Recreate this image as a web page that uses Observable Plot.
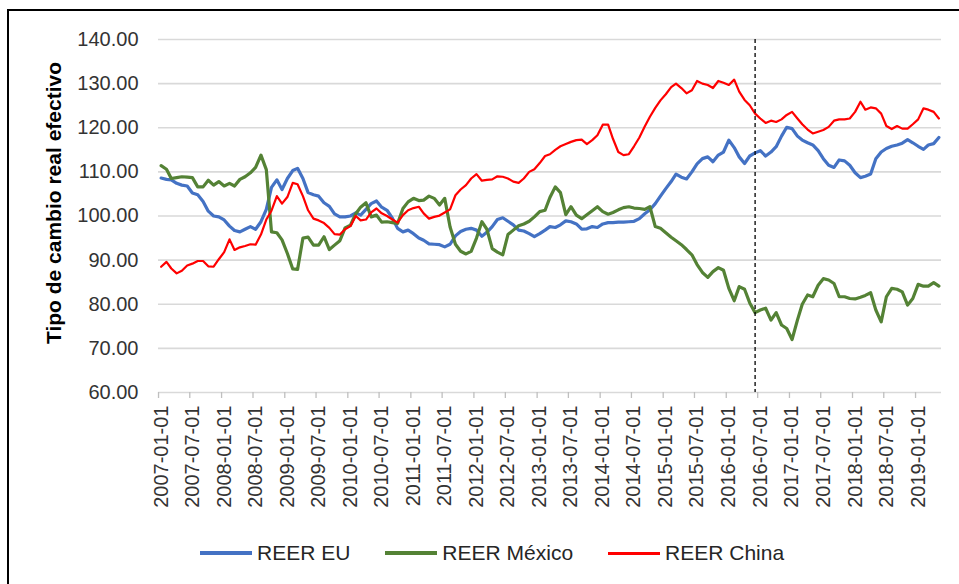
<!DOCTYPE html>
<html>
<head>
<meta charset="utf-8">
<script src="https://cdn.jsdelivr.net/npm/d3@7"></script>
<script src="https://cdn.jsdelivr.net/npm/@observablehq/plot@0.6"></script>
<style>
  body { margin: 0; background: #fff; font-family: "Liberation Sans", Arial, sans-serif; }
  #wrap { position: relative; width: 959px; height: 584px; overflow: hidden; background: #fff; }
  #frame { position: absolute; left: 7px; top: 9px; width: 1200px; height: 1200px; border-left: 2px solid #000; border-top: 2px solid #000; pointer-events: none; }
  #chart { position: absolute; left: 0; top: 0; }
  #ytitle { position: absolute; left: 52.5px; top: 203px; transform: translate(-50%, -50%) rotate(-90deg); white-space: nowrap; font-weight: bold; font-size: 21px; line-height: 1; color: #000; }
  #legend { position: absolute; left: 200px; top: 540px; height: 26px; display: flex; align-items: center; font-size: 21px; color: #262626; white-space: nowrap; }
  .sw { width: 52px; margin-right: 5px; }
  .item { display: flex; align-items: center; margin-right: 35px; }
</style>
</head>
<body>
<div id="wrap">
  <div id="chart"></div>
  <div id="ytitle">Tipo de cambio real efectivo</div>
  <div id="legend"></div>
  <div id="frame"></div>
</div>
<script>
// ---- Data (monthly, 2007-01 to 2019-05) ----
const firstMonth = "2007-01-01";
const lastMonth = "2019-05-01";
const seriesNames = ["REER EU", "REER México", "REER China"];
const seriesColors = ["#4472C4", "#548235", "#FF0000"];
const seriesWidths = [3.2, 3.2, 2.2];

const reerEU = [
  108.6, 108.3, 108.2, 107.4, 107.0, 106.8, 105.2, 104.8, 103.3, 101.1,
  100.0, 99.8, 99.1, 97.7, 96.7, 96.4, 97.0, 97.6, 97.0, 98.7,
  101.5, 106.5, 108.2, 106.0, 108.5, 110.3, 110.8, 108.5, 105.3, 104.8,
  104.5, 103.0, 102.2, 100.5, 99.8, 99.8, 100.0, 100.7, 100.2, 101.5,
  102.8, 103.4, 102.0, 101.3, 99.5, 97.2, 96.4, 96.8, 96.0, 95.0,
  94.5, 93.7, 93.6, 93.5, 93.0, 93.6, 95.5, 96.5, 97.0, 97.2,
  96.8, 95.4, 96.3, 97.6, 99.2, 99.6, 98.8, 98.0, 96.8, 96.6,
  96.0, 95.3, 96.0, 96.8, 97.6, 97.4, 98.0, 98.9, 98.7, 98.2,
  97.0, 97.1, 97.6, 97.4, 98.2, 98.5, 98.5, 98.6, 98.6, 98.7,
  98.8, 99.4, 100.5, 101.4, 102.8, 104.5, 106.2, 107.8, 109.5, 108.8,
  108.4, 110.0, 111.8, 113.0, 113.4, 112.3, 113.8, 114.5, 117.2, 115.5,
  113.4, 111.9, 113.6, 114.3, 114.8, 113.6, 114.5, 115.7, 118.1, 120.1,
  119.8, 118.1, 117.2, 116.6, 116.1, 114.8, 113.0, 111.5, 111.0, 112.7,
  112.5, 111.5, 109.8, 108.7, 109.0, 109.5, 113.0, 114.5, 115.3, 115.8,
  116.1, 116.5, 117.3, 116.6, 115.8, 115.1, 116.1, 116.4, 117.8
];
const reerMexico = [
  111.4, 110.6, 108.5, 108.7, 108.9, 108.8, 108.7, 106.6, 106.6, 108.1,
  107.0, 107.8, 106.8, 107.4, 106.8, 108.3, 108.9, 109.8, 111.0, 113.8,
  110.5, 96.4, 96.2, 94.6, 91.5, 88.0, 87.9, 95.0, 95.2, 93.4,
  93.4, 95.3, 92.4, 93.4, 94.4, 97.3, 97.9, 100.5, 102.0, 103.0,
  99.8, 100.2, 98.6, 98.7, 98.5, 98.3, 101.7, 103.2, 104.0, 103.5,
  103.6, 104.5, 104.0, 102.5, 104.0, 97.5, 93.6, 92.0, 91.4, 92.0,
  95.0, 98.7, 97.0, 92.6, 91.8, 91.2, 95.8, 96.8, 97.8, 98.2,
  98.8, 99.8, 101.0, 101.3, 104.2, 106.6, 105.3, 100.3, 102.1, 100.2,
  99.4, 100.3, 101.2, 102.1, 101.0, 100.4, 100.8, 101.4, 101.9, 102.1,
  101.8, 101.7, 101.5, 102.1, 97.6, 97.2, 96.2, 95.2, 94.4, 93.5,
  92.4, 91.2, 89.0, 87.2, 86.1, 87.4, 88.3, 87.7, 83.6, 80.8,
  84.0, 83.4, 80.3, 78.1, 78.7, 79.1, 76.4, 78.1, 75.3, 74.5,
  72.0, 76.4, 80.0, 82.1, 81.7, 84.3, 85.8, 85.5, 84.7, 81.7,
  81.7, 81.3, 81.2, 81.6, 82.0, 82.6, 78.7, 76.0, 81.7, 83.6,
  83.4, 82.8, 79.8, 81.3, 84.5, 84.1, 84.1, 84.9, 84.1
];
const reerChina = [
  88.5, 89.6, 88.1, 87.0, 87.6, 88.8, 89.2, 89.8, 89.8, 88.6,
  88.5, 90.2, 91.8, 94.7, 92.3, 92.9, 93.2, 93.6, 93.5, 95.8,
  99.2, 101.2, 104.5, 102.8, 104.3, 107.5, 107.2, 104.5, 101.3, 99.4,
  99.0, 98.4, 97.3, 95.9, 95.8, 97.0, 97.7, 100.0, 99.0, 99.2,
  100.8, 101.7, 100.6, 100.0, 99.2, 98.5, 100.2, 101.3, 101.8, 102.1,
  100.6, 99.4, 99.8, 100.1, 100.8, 101.5, 104.7, 106.0, 107.0, 108.5,
  109.5, 108.0, 108.2, 108.3, 109.0, 108.9, 108.5, 107.8, 107.5, 108.5,
  110.0, 110.6, 112.0, 113.6, 114.0, 115.0, 115.8, 116.3, 116.8, 117.2,
  117.3, 116.3, 117.2, 118.3, 120.7, 120.7, 117.5, 114.5, 113.8, 114.0,
  115.8, 117.8, 120.3, 122.5, 124.5, 126.2, 127.6, 129.2, 130.0, 129.0,
  127.8, 128.5, 130.6, 130.0, 129.7, 129.0, 130.6, 130.2, 129.7, 130.9,
  128.2, 126.3, 125.1, 123.2, 122.1, 121.1, 121.6, 121.3, 121.9, 122.9,
  123.6, 122.1, 120.8, 119.6, 118.7, 119.1, 119.5, 120.2, 121.6, 121.9,
  121.9, 122.1, 123.6, 125.9, 124.1, 124.6, 124.4, 123.2, 120.4, 119.7,
  120.4, 119.8, 119.8, 120.8, 121.9, 124.4, 124.1, 123.6, 122.1
];
const xTickLabels = [
  "2007-01-01", "2007-07-01", "2008-01-01", "2008-07-01", "2009-01-01",
  "2009-07-01", "2010-01-01", "2010-07-01", "2011-01-01", "2011-07-01",
  "2012-01-01", "2012-07-01", "2013-01-01", "2013-07-01", "2014-01-01",
  "2014-07-01", "2015-01-01", "2015-07-01", "2016-01-01", "2016-07-01",
  "2017-01-01", "2017-07-01", "2018-01-01", "2018-07-01", "2019-01-01"
];
const yTicks = [60, 70, 80, 90, 100, 110, 120, 130, 140];
const markerMonth = ["2016-06-01"];

// ---- Build table ----
const months = d3.utcMonth.range(new Date(firstMonth), d3.utcMonth.offset(new Date(lastMonth), 1));
const seriesValues = [reerEU, reerMexico, reerChina];
const rows = [];
seriesNames.forEach((name, i) => {
  seriesValues[i].forEach((v, j) => rows.push({date: months[j], value: v, series: name}));
});

const halfMonth = 15.2 * 24 * 3600 * 1000;
const xDomain = [new Date(+new Date(firstMonth) - halfMonth), new Date(+new Date(lastMonth) + halfMonth)];
const xTicks = xTickLabels.map(s => new Date(s));

const chart = Plot.plot({
  width: 959,
  height: 530,
  marginLeft: 158,
  marginRight: 18,
  marginTop: 39,
  marginBottom: 138,
  style: {fontFamily: "'Liberation Sans', Arial, sans-serif", background: "transparent"},
  x: {type: "utc", domain: xDomain},
  y: {domain: [60, 140]},
  marks: [
    Plot.gridY(yTicks, {stroke: "#d9d9d9", strokeOpacity: 1, strokeWidth: 1.6}),
    Plot.axisY(yTicks, {tickSize: 0, tickPadding: 20, tickFormat: d3.format(".2f"), fontSize: 20, fill: "#333", label: null}),
    Plot.axisX(xTicks, {tickSize: 6, tickFormat: () => "", stroke: "#bfbfbf", strokeWidth: 1.3, dx: -2.6, label: null}),
    Plot.axisX(xTicks, {tickSize: 0, tickPadding: 13, tickRotate: -90, tickFormat: d3.utcFormat("%Y-%m-%d"), fontSize: 20, fill: "#333", label: null}),
    ...seriesNames.map((name, i) => Plot.line(rows.filter(d => d.series === name), {
      x: "date", y: "value", stroke: seriesColors[i], strokeWidth: seriesWidths[i],
      strokeLinejoin: "round", strokeLinecap: "round"
    })),
    Plot.ruleX(markerMonth.map(s => new Date(s)), {stroke: "#000", strokeWidth: 1.3, strokeDasharray: "4,3"})
  ]
});
document.getElementById("chart").appendChild(chart);

// ---- Legend ----
const legend = document.getElementById("legend");
seriesNames.forEach((name, i) => {
  const item = document.createElement("div");
  item.className = "item";
  const sw = document.createElement("div");
  sw.className = "sw";
  sw.style.height = (i === 2 ? 3 : 4) + "px";
  sw.style.background = seriesColors[i];
  const t = document.createElement("span");
  t.textContent = name;
  item.appendChild(sw);
  item.appendChild(t);
  legend.appendChild(item);
});
</script>
</body>
</html>
